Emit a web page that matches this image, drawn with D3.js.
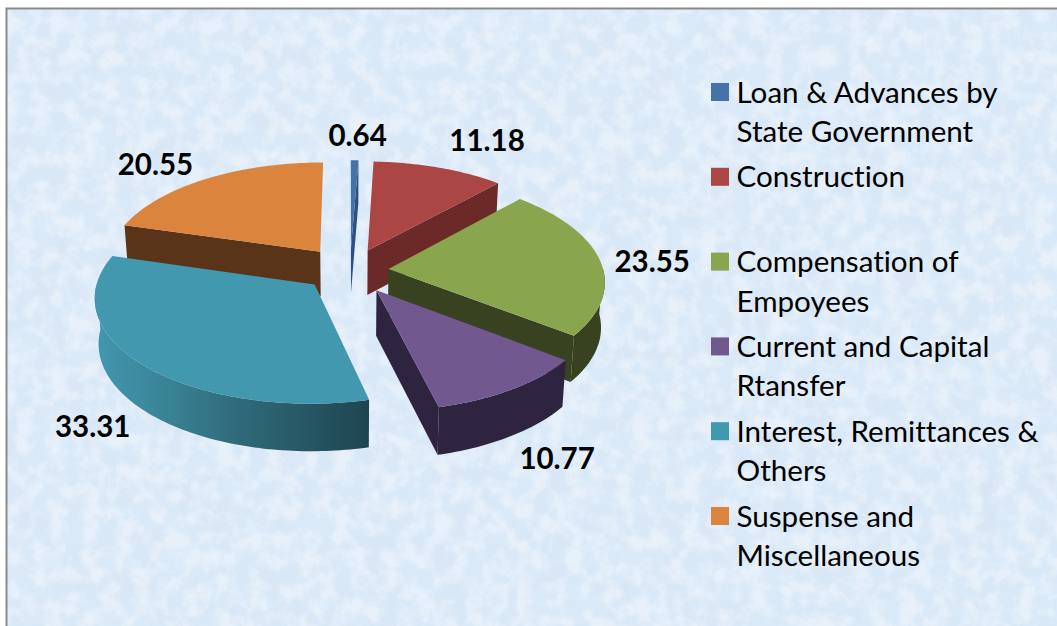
<!DOCTYPE html>
<html><head><meta charset="utf-8">
<script src="https://cdn.jsdelivr.net/npm/d3@7/dist/d3.min.js"></script>
<style>html,body{margin:0;padding:0;background:#fff;overflow:hidden}svg{display:block}text{font-family:Lato,"Open Sans",sans-serif;fill:#000;font-variant-ligatures:none}</style>
</head><body><svg id="c" width="1057" height="626"></svg>
<script>
const categories=["Loan & Advances by State Government","Construction","Compensation of Empoyees","Current and Capital Rtansfer","Interest, Remittances & Others","Suspense and Miscellaneous"];
const values=[0.64,11.18,23.55,10.77,33.31,20.55];
const legendLines=[["Loan & Advances by","State Government"],["Construction"],["Compensation of","Empoyees"],["Current and Capital","Rtansfer"],["Interest, Remittances &","Others"],["Suspense and","Miscellaneous"]];
const topColors=["#4573A7","#AA4643","#89A54E","#71588F","#4198AF","#DB843D"];
const wallColors=["#2D5080","#6B2A28","#384220","#2E2440","url(#tealWall)","#5A3418"];
const drawOrder=[0,1,5,2,3,4];
const labelNudges=[[3,-26],[48,-28],[44,0],[45,68],[-49,58],[-52,-17]];
const explodeX=[0.22,0.22,0.18,0.22,0.225,0.235];
const explodeV=[0.22,0.22,0.22,0.22,0.185,0.24];

const W=1057,H=626,cx=350,cy=271,persp=0.11,depth=45,shrink=0.985;
const svg=d3.select("#c");
const defs=svg.append("defs");
const mkNoise=(id,freq,seed,r,g,b,k,o)=>{
  const f=defs.append("filter").attr("id",id).attr("x",0).attr("y",0).attr("width","100%").attr("height","100%");
  f.append("feTurbulence").attr("type","fractalNoise").attr("baseFrequency",freq).attr("numOctaves",5).attr("seed",seed);
  f.append("feColorMatrix").attr("type","matrix").attr("values",`0 0 0 0 ${r} 0 0 0 0 ${g} 0 0 0 0 ${b} ${k} 0 0 0 ${o}`);
};
mkNoise("nWhite","0.06",3,1,1,1,3.0,-1.2);
mkNoise("nBlue","0.03",11,0.68,0.78,0.90,3.0,-1.25);
const g=defs.append("linearGradient").attr("id","tealWall").attr("gradientUnits","userSpaceOnUse").attr("x1",95).attr("x2",367).attr("y1",0).attr("y2",0);
[[0,"#4198AF"],[0.25,"#3A8497"],[0.55,"#2F6878"],[1,"#1E4650"]].forEach(s=>g.append("stop").attr("offset",s[0]).attr("stop-color",s[1]));

// background
svg.append("rect").attr("width",W).attr("height",H).attr("fill","#fff");
svg.append("rect").attr("x",7).attr("y",9).attr("width",W-7).attr("height",H-9).attr("fill","#DAE9F8");
svg.append("rect").attr("x",7).attr("y",9).attr("width",W-7).attr("height",H-9).attr("filter","url(#nBlue)").attr("opacity",.5);
svg.append("rect").attr("x",7).attr("y",9).attr("width",W-7).attr("height",H-9).attr("filter","url(#nWhite)").attr("opacity",.4);
svg.append("path").attr("d",`M6.5,${H}V8.5H${W}`).attr("fill","none").attr("stroke","#8a8a8a").attr("stroke-width",2);

// projection of the tilted disc onto the page, via scales
const xS=d3.scaleLinear().domain([-1,1]).range([cx-215,cx+215]);
const yS=d3.scaleLinear().domain([-1,1]).range([cy+103,cy-103]);
const proj=(x,v,low)=>{
  const s=1/(1+persp*v);
  let X=xS(x*s),Y=yS(v*s);
  if(low){X=cx+(X-cx)*shrink;Y+=depth*(1+0.4*(s-1));}
  return [X,Y];
};
const pie=d3.pie().sort(null).value(d=>d);
const arcs=pie(values);
const line=d3.line();

drawOrder.forEach(i=>{
  const a=arcs[i],mid=(a.startAngle+a.endAngle)/2;
  const ox=explodeX[i]*Math.sin(mid),ov=explodeV[i]*Math.cos(mid);
  const pt=(th,low)=>proj(ox+Math.sin(th),ov+Math.cos(th),low);
  const tip=low=>proj(ox,ov,low);
  const sweep=(a0,a1)=>{const n=Math.max(2,Math.ceil((a1-a0)/0.02));return d3.range(n+1).map(k=>a0+(a1-a0)*k/n);};
  const gS=svg.append("g").attr("class","slice");
  const wall=wallColors[i];
  if(Math.sin(a.startAngle)<-1e-6)gS.append("path").attr("d",line([tip(false),pt(a.startAngle,false),pt(a.startAngle,true),tip(true)])+"Z").attr("fill",wall);
  if(-Math.sin(a.endAngle)<-1e-6)gS.append("path").attr("d",line([tip(false),pt(a.endAngle,false),pt(a.endAngle,true),tip(true)])+"Z").attr("fill",wall);
  const v0=Math.max(a.startAngle,Math.PI/2),v1=Math.min(a.endAngle,3*Math.PI/2);
  if(v1>v0){
    const th=sweep(v0,v1);
    gS.append("path").attr("d",line(th.map(t=>pt(t,false)).concat(th.slice().reverse().map(t=>pt(t,true))))+"Z").attr("fill",wall);
  }
  const th=sweep(a.startAngle,a.endAngle);
  gS.append("path").attr("d",line([tip(false)].concat(th.map(t=>pt(t,false))))+"Z").attr("fill",topColors[i]);
});

// data labels: anchored to each slice's rim midpoint
const fmt=d3.format(".2f");
arcs.forEach((a,i)=>{
  const mid=(a.startAngle+a.endAngle)/2;
  const f=1.22;
  const p=proj(f*Math.sin(mid),f*Math.cos(mid),false);
  svg.append("text").attr("x",p[0]+labelNudges[i][0]).attr("y",p[1]+labelNudges[i][1]).attr("text-anchor","middle").attr("dominant-baseline","central")
    .attr("font-size",29.5).attr("font-weight",700).text(fmt(values[i]));
});

// legend
const legendY=d3.scalePoint().domain(d3.range(6)).range([92,516]);
const lineGap=39.5;
categories.forEach((c,i)=>{
  const y=legendY(i);
  svg.append("rect").attr("x",711).attr("y",y-9).attr("width",18).attr("height",18).attr("fill",topColors[i]);
  legendLines[i].forEach((t,j)=>{
    svg.append("text").attr("x",736.5).attr("y",y-1+j*lineGap).attr("dominant-baseline","central").attr("font-size",29.6).text(t);
  });
});
</script></body></html>
